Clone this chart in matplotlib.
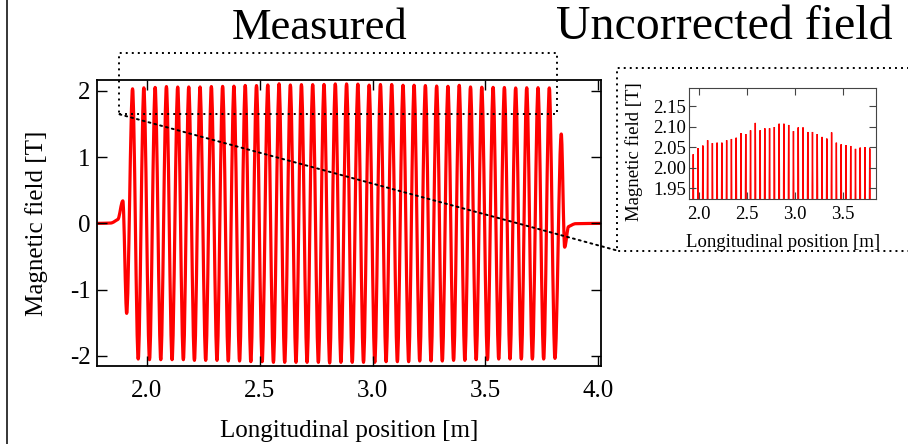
import matplotlib
matplotlib.use("Agg")
import matplotlib.pyplot as plt
from matplotlib.path import Path
from matplotlib.patches import PathPatch, Rectangle, ConnectionPatch
from matplotlib.lines import Line2D

# field extrema (position [m], field [T])
peak_x = [1.937, 1.987, 2.037, 2.087, 2.137, 2.186, 2.236, 2.286, 2.336, 2.386,
          2.436, 2.486, 2.536, 2.586, 2.636, 2.685, 2.735, 2.785, 2.835, 2.885,
          2.935, 2.985, 3.035, 3.085, 3.135, 3.184, 3.234, 3.284, 3.334, 3.384,
          3.434, 3.484, 3.534, 3.584, 3.634, 3.683, 3.733, 3.783]
peak_b = [2.033, 2.048, 2.054, 2.067, 2.060, 2.061, 2.061, 2.067, 2.070, 2.073,
          2.084, 2.082, 2.091, 2.109, 2.091, 2.096, 2.096, 2.099, 2.107, 2.107,
          2.104, 2.089, 2.098, 2.098, 2.087, 2.087, 2.082, 2.075, 2.071, 2.086,
          2.061, 2.057, 2.055, 2.053, 2.046, 2.049, 2.050, 2.047]
trough_x = [1.962, 2.012, 2.062, 2.112, 2.162, 2.211, 2.261, 2.311, 2.361, 2.411,
            2.461, 2.511, 2.561, 2.611, 2.661, 2.710, 2.760, 2.810, 2.860, 2.910,
            2.960, 3.010, 3.060, 3.110, 3.160, 3.209, 3.259, 3.309, 3.359, 3.409,
            3.459, 3.509, 3.559, 3.609, 3.659, 3.708, 3.758, 3.808]
trough_b = [-2.05, -2.06, -2.06, -2.06, -2.06, -2.07, -2.07, -2.07, -2.08, -2.08,
            -2.09, -2.09, -2.10, -2.10, -2.10, -2.10, -2.10, -2.11, -2.10, -2.10,
            -2.10, -2.10, -2.09, -2.09, -2.09, -2.08, -2.08, -2.08, -2.07, -2.07,
            -2.06, -2.06, -2.05, -2.05, -2.05, -2.05, -2.05, -2.04]
# entrance and exit of the device
lead_x = [1.781, 1.840, 1.872, 1.894, 1.911]
lead_b = [0.0, 0.005, 0.06, 0.34, -1.36]
tail_x = [3.836, 3.851, 3.868, 3.900, 4.012]
tail_b = [1.35, -0.36, -0.05, -0.005, 0.0]

main_xticks = [2.0, 2.5, 3.0, 3.5, 4.0]
main_yticks = [-2, -1, 0, 1, 2]
inset_xticks = [2.0, 2.5, 3.0, 3.5]
inset_yticks = [1.95, 2.00, 2.05, 2.10, 2.15]
zoom_x = [1.879, 3.818]
zoom_b = [1.648, 2.575]

plt.rcParams['font.family'] = ['Liberation Serif', 'DejaVu Serif']
plt.rcParams['axes.unicode_minus'] = False


def field_path(xs, ys):
    # smooth curve through the extrema (horizontal tangent at each turning point)
    n = len(xs)
    slopes = []
    for i in range(n):
        if i == 0 or i == n - 1:
            slopes.append(0.0)
            continue
        s1 = (ys[i] - ys[i - 1]) / (xs[i] - xs[i - 1])
        s2 = (ys[i + 1] - ys[i]) / (xs[i + 1] - xs[i])
        if s1 * s2 <= 0:
            slopes.append(0.0)
        else:
            slopes.append(min(abs(s1), abs(s2)) * (1 if s1 > 0 else -1))
    verts = [(xs[0], ys[0])]
    codes = [Path.MOVETO]
    for i in range(n - 1):
        d = (xs[i + 1] - xs[i]) / 3
        verts += [(xs[i] + d, ys[i] + slopes[i] * d),
                  (xs[i + 1] - d, ys[i + 1] - slopes[i + 1] * d),
                  (xs[i + 1], ys[i + 1])]
        codes += [Path.CURVE4] * 3
    return Path(verts, codes)


xs = list(lead_x)
ys = list(lead_b)
for px, pb, tx, tb in zip(peak_x, peak_b, trough_x, trough_b):
    xs += [px, tx]
    ys += [pb, tb]
xs += tail_x
ys += tail_b
path = field_path(xs, ys)

fig = plt.figure(figsize=(9.08, 4.44), dpi=100)

# main panel
ax = fig.add_axes([0.1072, 0.1757, 0.5547, 0.6441])
ax.add_patch(PathPatch(path, fill=False, edgecolor='red', lw=2.3, joinstyle='round'))
ax.set_xlim(1.781, 4.012)
ax.set_ylim(-2.155, 2.166)
ax.set_xticks(main_xticks)
ax.set_xticklabels([f"{v:.1f}" for v in main_xticks])
ax.set_yticks(main_yticks)
ax.set_yticklabels([str(v) for v in main_yticks])
ax.tick_params(direction='in', top=True, right=True, length=7, width=1.0,
               labelsize=18)
ax.tick_params(axis='x', pad=10)
ax.tick_params(axis='y', pad=5)
for s in ax.spines.values():
    s.set_linewidth(1.3)
ax.set_xlabel("Longitudinal position [m]", fontsize=18)
ax.set_ylabel("Magnetic field [T]", fontsize=18)
ax.xaxis.set_label_coords(0.5, -0.188)
ax.yaxis.set_label_coords(-0.097, 0.5)

# inset
axi = fig.add_axes([0.7591, 0.5525, 0.2056, 0.2486])
axi.add_patch(PathPatch(path, fill=False, edgecolor='red', lw=1.0))
axi.set_xlim(1.895, 3.848)
axi.set_ylim(1.925, 2.193)
axi.set_xticks(inset_xticks)
axi.set_xticklabels([f"{v:.1f}" for v in inset_xticks])
axi.set_yticks(inset_yticks)
axi.set_yticklabels([f"{v:.2f}" for v in inset_yticks])
axi.tick_params(direction='in', top=True, right=True, length=5, width=0.8,
                labelsize=13.5, color='#444444')
axi.tick_params(axis='x', pad=5)
axi.tick_params(axis='y', pad=2)
for s in axi.spines.values():
    s.set_linewidth(0.8)
    s.set_color('#444444')
axi.set_xlabel("Longitudinal position [m]", fontsize=13.5)
axi.set_ylabel("Magnetic field [T]", fontsize=13.5)
axi.xaxis.set_label_coords(0.5, -0.32)
axi.yaxis.set_label_coords(-0.25, 0.43)

# zoom box and connectors
dots = dict(color='black', lw=1.4, linestyle=(0, (1, 2.1)))
ax.add_patch(Rectangle((zoom_x[0], zoom_b[0]), zoom_x[1] - zoom_x[0],
                       zoom_b[1] - zoom_b[0], fill=False, clip_on=False,
                       zorder=5, **dots))
box_l, box_t, box_b = 0.6795, 0.8468, 0.4358
fig.add_artist(ConnectionPatch((zoom_x[1], zoom_b[1]), (box_l, box_t),
                               coordsA='data', coordsB='figure fraction',
                               axesA=ax, zorder=5, **dots))
fig.add_artist(ConnectionPatch((zoom_x[0], zoom_b[0]), (box_l, box_b),
                               coordsA='data', coordsB='figure fraction',
                               axesA=ax, zorder=5, **dots))
fig.add_artist(Line2D([1.02, box_l, box_l, 1.02], [box_t, box_t, box_b, box_b],
                      transform=fig.transFigure, **dots))

# left frame line
fig.add_artist(Line2D([0.0074, 0.0074], [0, 1], transform=fig.transFigure,
                      color='black', lw=1.1))

fig.text(320 / 908, 1 - 39 / 444, "Measured", ha='center', va='baseline',
         fontsize=32)
fig.text(724 / 908, 1 - 39 / 444, "Uncorrected field", ha='center',
         va='baseline', fontsize=34.5)

fig.savefig("out.png", dpi=100)
